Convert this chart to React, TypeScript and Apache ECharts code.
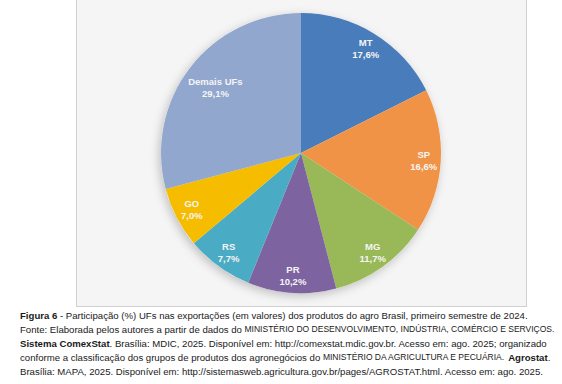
import React, { useEffect, useRef } from "react";
import * as echarts from "echarts";

const categories = ["MT", "SP", "MG", "PR", "RS", "GO", "Demais UFs"];
const values = [17.6, 16.6, 11.7, 10.2, 7.7, 7.0, 29.1];
const colors = ["#4c82c2", "#fa9a4a", "#a0c15c", "#8468a8", "#4eb2cd", "#ffc400", "#97aed7"];
const captionLines = [
  "{b|Figura 6} - Participação (%) UFs nas exportações (em valores) dos produtos do agro Brasil, primeiro semestre de 2024.",
  "Fonte: Elaborada pelos autores a partir de dados do {c|MINISTÉRIO DO DESENVOLVIMENTO, INDÚSTRIA, COMÉRCIO E SERVIÇOS.}",
  "{b|Sistema ComexStat}. Brasília: MDIC, 2025. Disponível em: http://comexstat.mdic.gov.br. Acesso em: ago. 2025; organizado",
  "conforme a classificação dos grupos de produtos dos agronegócios do {c|MINISTÉRIO DA AGRICULTURA E PECUÁRIA.} {b|Agrostat}.",
  "Brasília: MAPA, 2025. Disponível em: http://sistemasweb.agricultura.gov.br/pages/AGROSTAT.html. Acesso em: ago. 2025.",
];

const CENTER: [number, number] = [301, 153];
const R = 140;
const FONT = "Liberation Sans";
const CAP = 9.6;
const CAPS = 8.5;

export default function App() {
  const ref = useRef<HTMLDivElement>(null);
  useEffect(() => {
    if (!ref.current) return;
    const chart = echarts.init(ref.current, null, { renderer: "svg" });
    const fmt = (p: any) => `${p.name}\n${Number(p.value).toFixed(1).replace(".", ",")}%`;
    const baseData = categories.map((c, i) => ({ name: c, value: values[i] }));
    const labelStyle = {
      position: "inside",
      color: "#ffffff",
      opacity: 1,
      fontFamily: FONT,
      fontSize: 9.5,
      fontWeight: "bold",
      lineHeight: 12,
      formatter: fmt,
    };
    const transparentItem = { color: "rgba(0,0,0,0)", opacity: 0, borderWidth: 0, borderColor: "rgba(0,0,0,0)" };
    chart.setOption({
      animation: false,
      backgroundColor: "rgba(0,0,0,0)",
      graphic: {
        elements: captionLines.map((t, i) => ({
          type: "text",
          z: 100,
          x: 20,
          y: 315 + i * 14,
          style: {
            text: t,
            font: `${CAP}px "${FONT}"`,
            fill: "#1a1a1a",
            verticalAlign: "middle",
            rich: {
              b: { fontWeight: "bold", fontFamily: FONT, fontSize: CAP, fill: "#1a1a1a" },
              c: { fontFamily: FONT, fontSize: CAPS, fill: "#1a1a1a" },
            },
          },
        })),
      },
      series: [
        {
          type: "pie",
          silent: true,
          center: CENTER,
          radius: R,
          z: 1,
          data: [{ value: 1, name: "bg" }],
          label: { show: false },
          labelLine: { show: false },
          itemStyle: {
            color: "#ffffff",
            shadowBlur: 10,
            shadowColor: "rgba(0,0,0,0.22)",
            shadowOffsetX: -2,
            shadowOffsetY: 3,
          },
        },
        {
          type: "pie",
          silent: true,
          center: CENTER,
          radius: R,
          startAngle: 90,
          clockwise: true,
          z: 2,
          data: categories.map((c, i) => ({ name: c, value: values[i], itemStyle: { color: colors[i] } })),
          itemStyle: { borderWidth: 0 },
          label: { show: false },
          labelLine: { show: false },
        },
        {
          type: "pie",
          silent: true,
          center: CENTER,
          radius: 240,
          startAngle: 90,
          clockwise: true,
          z: 3,
          data: baseData.map((d) => ({ ...d, label: { show: d.name !== "Demais UFs" } })),
          itemStyle: transparentItem,
          label: labelStyle,
          labelLine: { show: false },
        },
        {
          type: "pie",
          silent: true,
          center: CENTER,
          radius: 210,
          startAngle: 90,
          clockwise: true,
          z: 3,
          data: baseData.map((d) => ({ ...d, label: { show: d.name === "Demais UFs" } })),
          itemStyle: transparentItem,
          label: labelStyle,
          labelLine: { show: false },
        },
      ],
    });
    return () => chart.dispose();
  }, []);
  return (
    <div style={{ position: "fixed", left: 0, top: 0, width: 562, height: 384, background: "#ffffff" }}>
      <div ref={ref} style={{ position: "absolute", left: 0, top: 0, width: 562, height: 384 }} />
      <div
        style={{
          position: "absolute",
          left: 76,
          top: -1,
          width: 449,
          height: 306,
          background: "rgba(0,0,0,0.04)",
          border: "1px solid #d0d0d0",
          pointerEvents: "none",
        }}
      />
    </div>
  );
}
